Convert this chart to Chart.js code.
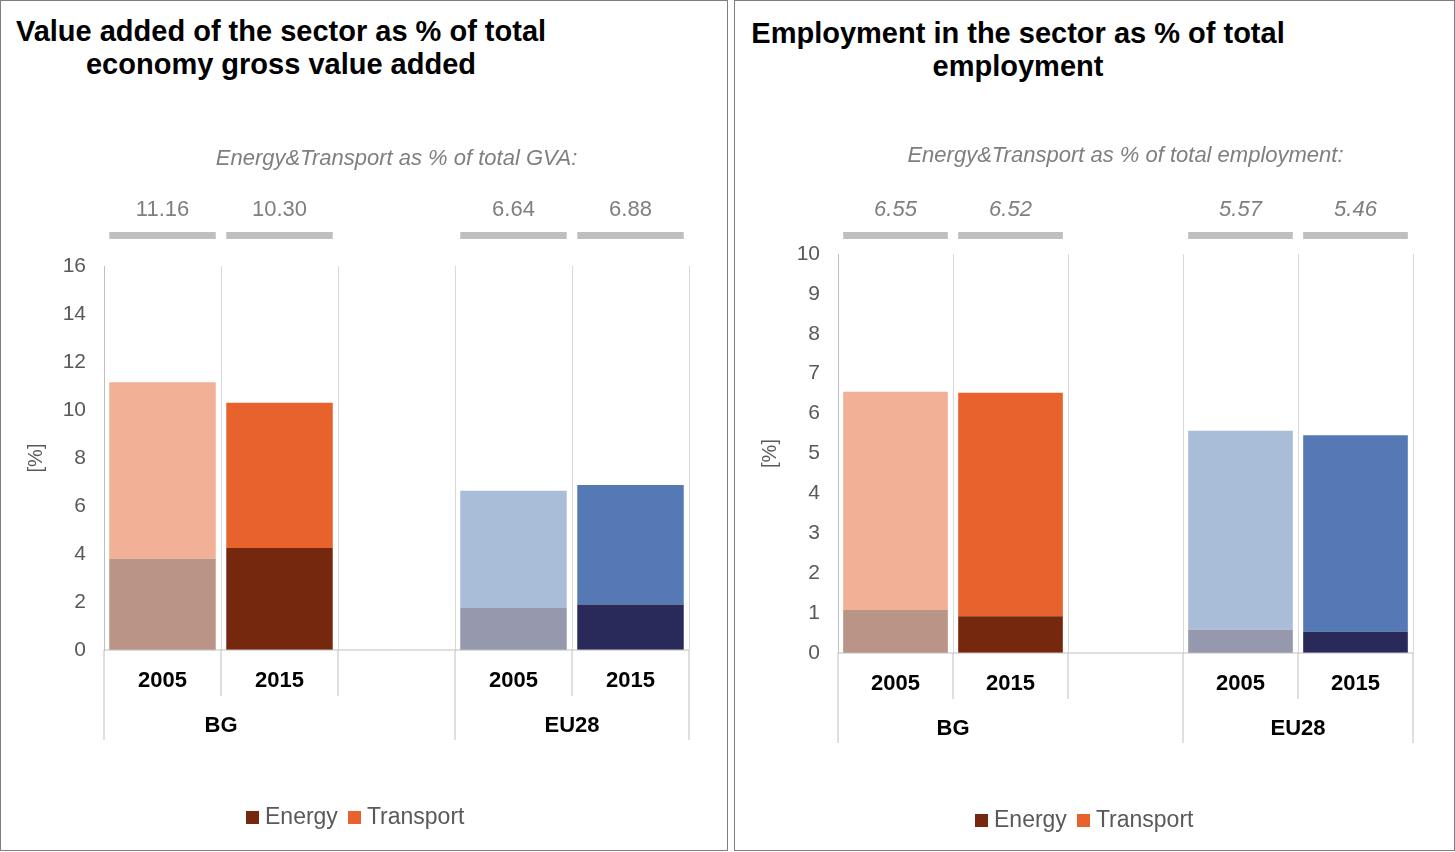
<!DOCTYPE html><html><head><meta charset="utf-8">
<script src="https://cdn.jsdelivr.net/npm/chart.js@4"></script>
<style>
body{margin:0;background:#fff;font-family:"Liberation Sans",Arial,sans-serif;}
.panel{position:absolute;border:1.5px solid #7f7f7f;box-sizing:border-box;background:#fff}
.title{position:absolute;font-weight:bold;font-size:29px;color:#000;text-align:center;line-height:33px;white-space:nowrap}
.leg{position:absolute;font-size:23px;color:#595959;display:flex;gap:10px;align-items:center}
.sw{display:inline-block;width:13px;height:13px;margin-right:6px}
canvas{position:absolute;left:0;top:0}
</style></head><body>
<div class="panel" style="left:0;top:0;width:728px;height:851px">
 <div class="title" style="left:10px;top:14px;width:540px">Value added of the sector as % of total<br>economy gross value added</div>
 <div style="position:absolute;left:0;top:0;width:727px;height:850px"><canvas id="c1"></canvas></div>
 <div class="leg" style="left:245px;top:802px"><span><span class="sw" style="background:#76280E"></span>Energy</span><span><span class="sw" style="background:#E8622E"></span>Transport</span></div>
</div>
<div class="panel" style="left:734px;top:0;width:721px;height:851px">
 <div class="title" style="left:10px;top:16px;width:546px">Employment in the sector as % of total<br>employment</div>
 <div style="position:absolute;left:0;top:0;width:719px;height:850px"><canvas id="c2"></canvas></div>
 <div class="leg" style="left:240px;top:805px"><span><span class="sw" style="background:#76280E"></span>Energy</span><span><span class="sw" style="background:#E8622E"></span>Transport</span></div>
</div>
<script>
const categories=["2005","2015","","2005","2015"];
const groups=["BG","EU28"];
const gvaEnergy=[3.8,4.25,null,1.75,1.9];
const gvaTransport=[7.36,6.05,null,4.89,4.98];
const gvaTotals=["11.16","10.30","","6.64","6.88"];
const empEnergy=[1.08,0.92,null,0.58,0.53];
const empTransport=[5.47,5.60,null,4.99,4.93];
const empTotals=["6.55","6.52","","5.57","5.46"];
const energyColors=["#BA9486","#76280E","#000","#9698AD","#2A2A5A"];
const transportColors=["#F2B096","#E8622E","#000","#A9BCD8","#5579B4"];

function make(id,energy,transport,totals,yMax,pad,note,noteY,valY,barY,italicVals){
 const cv=document.getElementById(id);
 const ann={id:'ann',afterDraw(ch){
  const c=ch.ctx,x=ch.scales.x,a=ch.chartArea;
  c.save();
  c.fillStyle='#7f7f7f';c.font='italic 22px "Liberation Sans"';c.textAlign='center';c.textBaseline='middle';
  c.fillText(note,(a.left+a.right)/2,noteY);
  c.font=(italicVals?'italic ':'')+'22px "Liberation Sans"';
  const step=x.getPixelForValue(1)-x.getPixelForValue(0);
  totals.forEach((t,i)=>{if(!t)return;const px=x.getPixelForValue(i);
   c.fillStyle='#7f7f7f';c.fillText(t,px,valY);
   c.fillStyle='#bfbfbf';c.fillRect(px-step*0.455,barY,step*0.91,7);});
  c.strokeStyle='#bfbfbf';c.lineWidth=1;
  const b=a.bottom;
  for(let i=0;i<=5;i++){const px=a.left+step*i;const long=(i==0||i==3||i==5);
   c.beginPath();c.moveTo(px,b);c.lineTo(px,b+(long?90:46));c.stroke();}
  c.beginPath();c.moveTo(a.left,b);c.lineTo(a.right,b);c.stroke();
  c.fillStyle='#000';c.font='bold 22px "Liberation Sans"';
  categories.forEach((t,i)=>{if(t)c.fillText(t,x.getPixelForValue(i),b+31);});
  c.fillText(groups[0],a.left+step,b+76);c.fillText(groups[1],a.left+step*4,b+76);
  c.fillStyle='#595959';c.font='20px "Liberation Sans"';
  c.translate(a.left-68,(a.top+a.bottom)/2);c.rotate(-Math.PI/2);c.fillText('[%]',0,0);
  c.restore();}};
 new Chart(cv,{type:'bar',data:{labels:categories,datasets:[
  {label:'Energy',data:energy,backgroundColor:energyColors,barPercentage:0.91,categoryPercentage:1},
  {label:'Transport',data:transport,backgroundColor:transportColors,barPercentage:0.91,categoryPercentage:1}]},
  options:{responsive:false,animation:false,events:[],devicePixelRatio:1,
   layout:{padding:pad},
   plugins:{legend:{display:false},tooltip:{enabled:false}},
   scales:{x:{stacked:true,ticks:{display:false},border:{display:false},grid:{color:'#d9d9d9',offset:true,drawTicks:false},afterFit(s){s.height=0}},
    y:{stacked:true,min:0,max:yMax,ticks:{stepSize:yMax==16?2:1,color:'#595959',font:{size:21,family:'"Liberation Sans"'},padding:10},
     grid:{display:false},border:{color:'#bfbfbf'},afterFit(s){s.width=50}}}},plugins:[ann]});
}
function setup(id,w){const c=document.getElementById(id);c.width=w;c.height=850;c.style.width=w+'px';c.style.height='850px';}
setup('c1',727);setup('c2',719);
make('c1',gvaEnergy,gvaTransport,gvaTotals,16,{left:53,right:39,top:265,bottom:201},'Energy&Transport as % of total GVA:',158,209,231,false);
make('c2',empEnergy,empTransport,empTotals,10,{left:53,right:41,top:253,bottom:198},'Energy&Transport as % of total employment:',155,209,231,true);
</script></body></html>
